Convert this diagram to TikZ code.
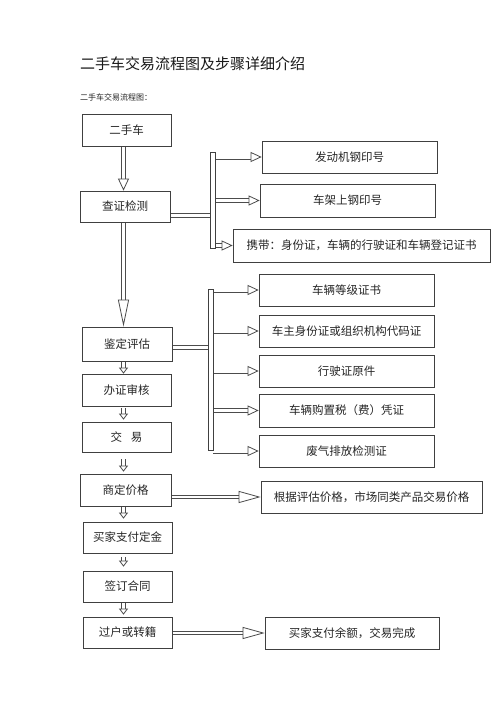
\documentclass[tikz,border=0pt]{standalone}
\usepackage{fontspec}
\setmainfont{Noto Sans CJK SC}
\usetikzlibrary{arrows.meta}
\pgfdeclarelayer{bg}
\pgfdeclarelayer{conn}
\pgfsetlayers{bg,conn,main}
\tikzset{
  box/.style={draw=black!75, line width=0.7pt, fill=white, inner sep=0pt,
    font=\fontsize{11.5}{13}\selectfont, text=black!85},
  barbox/.style={draw=black!75, line width=0.8pt, fill=white, inner sep=0pt, minimum width=5pt},
  shaftline/.style={draw=black!70, line width=0.9pt, double=white, double distance=3.2pt},
  thinshaft/.style={draw=black!70, line width=0.9pt, double=white, double distance=2.4pt},
  bigarr/.style={shaftline, -{Triangle[length=12pt,width=11pt,fill=white,line width'=0.8pt]}},
  longarr/.style={shaftline, -{Triangle[length=27pt,width=11pt,fill=white,line width'=0.8pt]}},
  sidearr/.style={shaftline, -{Triangle[length=11pt,width=10pt,fill=white,line width'=0.8pt]}},
  smallarr/.style={thinshaft, -{Triangle[length=6pt,width=9pt,fill=white,line width'=0.8pt]}},
  widearr/.style={thinshaft, -{Triangle[length=22pt,width=12pt,fill=white,line width'=0.8pt]}},
}
\begin{document}
\begin{tikzpicture}[x=1pt,y=-1pt]
\begin{pgfonlayer}{bg}
  \fill[white] (0,0) rectangle (500,707);
\end{pgfonlayer}
\useasboundingbox (0,0) rectangle (500,707);

% titles
\node[anchor=west, inner sep=0pt, font=\fontsize{15}{17}\selectfont, text=black!90] (title) at (80,64) {二手车交易流程图及步骤详细介绍};
\node[anchor=west, inner sep=0pt, font=\fontsize{8}{9}\selectfont, text=black!85] (subtitle) at (80,97) {二手车交易流程图：};

% left column
\node[box, minimum width=89pt, minimum height=32pt] (b1) at (126.5,130) {二手车};
\node[box, minimum width=90pt, minimum height=31pt] (b2) at (125,206.5) {查证检测};
\node[box, minimum width=90pt, minimum height=34pt] (b3) at (127,344) {鉴定评估};
\node[box, minimum width=89pt, minimum height=32pt] (b4) at (126.5,390) {办证审核};
\node[box, minimum width=89pt, minimum height=30pt] (b5) at (126.5,437) {交\hspace{9pt}易};
\node[box, minimum width=91pt, minimum height=32pt] (b6) at (125.5,490) {商定价格};
\node[box, minimum width=89pt, minimum height=31pt] (b7) at (127.5,537.5) {买家支付定金};
\node[box, minimum width=89pt, minimum height=31pt] (b8) at (127.5,586.5) {签订合同};
\node[box, minimum width=89pt, minimum height=31pt] (b9) at (127.5,632.5) {过户或转籍};

% first branch
\node[barbox, minimum height=96pt] (bar1) at (212.5,200) {};
\node[box, minimum width=175pt, minimum height=32pt] (r1) at (349.5,157) {发动机钢印号};
\node[box, minimum width=175pt, minimum height=33pt] (r2) at (347.5,200.5) {车架上钢印号};
\node[box, minimum width=257pt, minimum height=33pt] (r3) at (361.5,245.5) {携带：身份证，车辆的行驶证和车辆登记证书};

% second branch
\node[barbox, minimum height=161pt] (bar2) at (210.5,369.5) {};
\node[box, minimum width=175pt, minimum height=32pt] (s1) at (346.5,290) {车辆等级证书};
\node[box, minimum width=175pt, minimum height=32pt] (s2) at (346.5,331) {车主身份证或组织机构代码证};
\node[box, minimum width=175pt, minimum height=32pt] (s3) at (346.5,371) {行驶证原件};
\node[box, minimum width=175pt, minimum height=33pt] (s4) at (346.5,410.5) {车辆购置税（费）凭证};
\node[box, minimum width=175pt, minimum height=32pt] (s5) at (346.5,451) {废气排放检测证};

% right singles
\node[box, minimum width=221pt, minimum height=32pt] (p1) at (371.5,497) {根据评估价格，市场同类产品交易价格};
\node[box, minimum width=174pt, minimum height=32pt] (p2) at (352,633) {买家支付余额，交易完成};

\coordinate (ax) at (123.5,0);
\coordinate (c1) at (0,215.5);
\coordinate (c2) at (0,347.5);

\begin{pgfonlayer}{conn}
  \draw[bigarr] (b1.south -| ax) -- (b2.north -| ax);
  \draw[longarr] (b2.south -| ax) -- (b3.north -| ax);
  \draw[smallarr] (b3.south -| ax) -- (b4.north -| ax);
  \draw[smallarr, shorten <=2pt, shorten >=2pt] (b4.south -| ax) -- (b5.north -| ax);
  \draw[smallarr, shorten <=7pt, shorten >=2pt] (b5.south -| ax) -- (b6.north -| ax);
  \draw[smallarr, shorten <=1pt, shorten >=3pt] (b6.south -| ax) -- (b7.north -| ax);
  \draw[smallarr, shorten <=4pt, shorten >=4pt] (b7.south -| ax) -- (b8.north -| ax);
  \draw[smallarr, shorten <=1pt, shorten >=2pt] (b8.south -| ax) -- (b9.north -| ax);

  \draw[shaftline] (b2.east |- c1) -- (bar1.west |- c1);
  \draw[sidearr] (bar1.east |- r1.west) -- (r1.west);
  \draw[sidearr] (bar1.east |- r2.west) -- (r2.west);
  \draw[sidearr] (bar1.east |- r3.west) -- (r3.west);

  \draw[shaftline] (b3.east |- c2) -- (bar2.west |- c2);
  \draw[sidearr] (bar2.east |- s1.west) -- (s1.west);
  \draw[sidearr] (bar2.east |- s2.west) -- (s2.west);
  \draw[sidearr] (bar2.east |- s3.west) -- (s3.west);
  \draw[sidearr] (bar2.east |- s4.west) -- (s4.west);
  \draw[sidearr] (bar2.east |- s5.west) -- (s5.west);

  \draw[widearr] (b6.east |- p1.west) -- (p1.west);
  \draw[widearr] (b9.east |- p2.west) -- (p2.west);
\end{pgfonlayer}
\end{tikzpicture}
\end{document}
